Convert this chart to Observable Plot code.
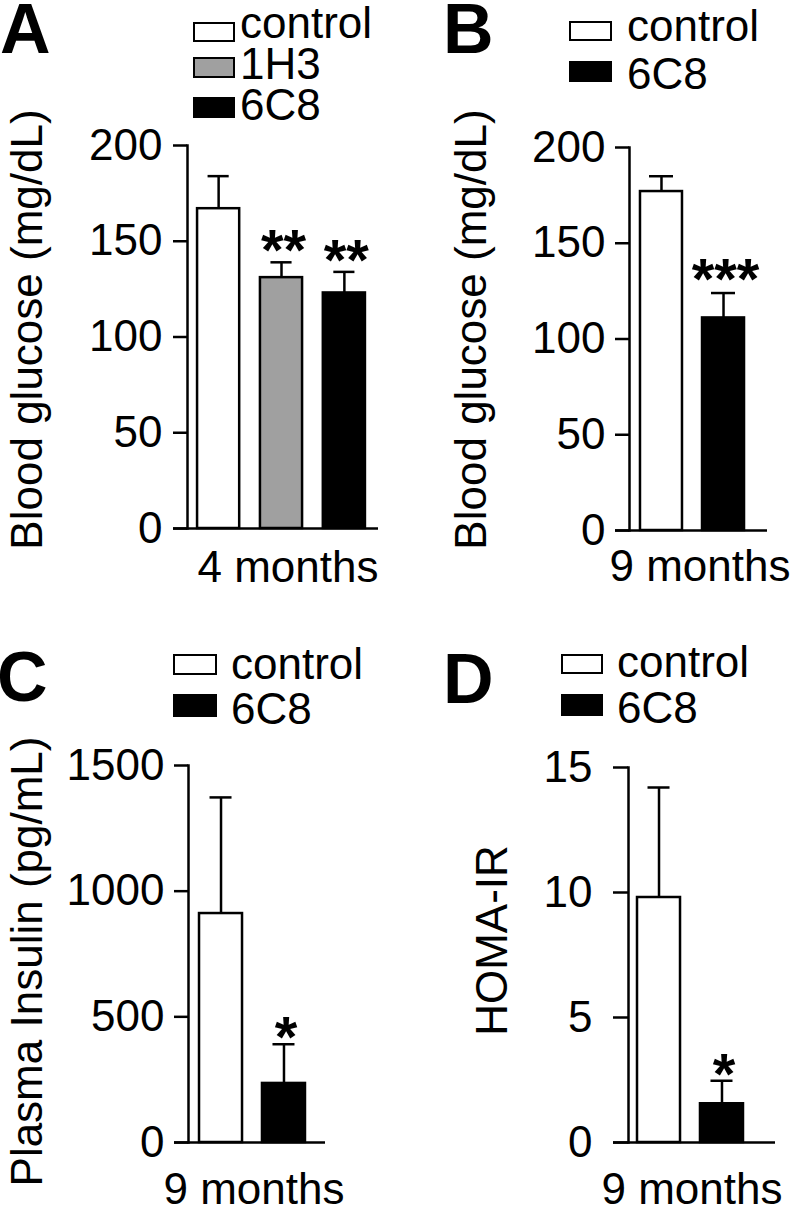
<!DOCTYPE html>
<html><head><meta charset="utf-8">
<script src="https://cdn.jsdelivr.net/npm/d3@7"></script>
<script src="https://cdn.jsdelivr.net/npm/@observablehq/plot@0.6"></script>
<style>
html,body{margin:0;padding:0;background:#fff;}
#fig{position:relative;width:795px;height:1205px;overflow:hidden;background:#fff;font-family:"Liberation Sans",Arial,Helvetica,sans-serif;color:#000;}
.panel{position:absolute;}
.letter{position:absolute;font-weight:bold;font-size:70px;line-height:0.8;white-space:nowrap;}
.sw{position:absolute;box-sizing:border-box;border:2.5px solid #000;}
.lt{position:absolute;font-size:44px;line-height:0.8;white-space:nowrap;}
</style></head><body><div id="fig"></div>
<script>
// ---- data ----
const groupsA = ["control", "1H3", "6C8"];
const glucose4mo = [167, 131, 123];
const glucose4moSem = [17, 8, 11];
const starsA = ["", "**", "**"];

const groupsB = ["control", "6C8"];
const glucose9mo = [177, 111];
const glucose9moSem = [8, 13];
const starsB = ["", "***"];

const groupsC = ["control", "6C8"];
const insulin9mo = [911, 235];
const insulin9moSem = [462, 156];
const starsC = ["", "*"];

const groupsD = ["control", "6C8"];
const homa9mo = [9.8, 1.55];
const homa9moSem = [4.4, 0.92];
const starsD = ["", "*"];

const ticksGlucose = [0, 50, 100, 150, 200];
const ticksInsulin = [0, 500, 1000, 1500];
const ticksHoma = [0, 5, 10, 15];

const panelLetters = ["A", "B", "C", "D"];
const yLabels = ["Blood glucose (mg/dL)", "Blood glucose (mg/dL)", "Plasma Insulin (pg/mL)", "HOMA-IR"];
const xLabels = ["4 months", "9 months", "9 months", "9 months"];

// ---- styles ----
const groupColors = {"control": "#ffffff", "1H3": "#a0a0a0", "6C8": "#000000"};
const FONT = '"Liberation Sans", Arial, Helvetica, sans-serif';
const fig = document.getElementById("fig");
// baseline offset from top of a line box with line-height 0.8 (Liberation Sans ascent .905, descent .212)
const BASE = 0.905 + (0.8 - 1.117) / 2;

function panel(cfg, L) {
  const data = cfg.groups.map((g, i) => ({group: g, value: cfg.values[i], upper: cfg.values[i] + cfg.sem[i], star: cfg.stars[i]}));
  const plot = Plot.plot({
    width: L.width, height: L.height,
    marginLeft: L.ml, marginRight: L.mr, marginTop: L.mt, marginBottom: L.mb,
    style: {fontFamily: FONT, fontSize: "44px", color: "#000", background: "transparent", overflow: "visible"},
    x: {domain: cfg.groups, paddingInner: L.pi, paddingOuter: L.po, round: false, axis: null},
    y: {domain: cfg.domain, label: null},
    color: {domain: cfg.groups, range: cfg.groups.map(g => groupColors[g])},
    marks: [
      Plot.barY(data, {x: "group", y: "value", fill: "group", stroke: "#000", strokeWidth: 2.5}),
      Plot.ruleX(data, {x: "group", y1: "value", y2: "upper", stroke: "#000", strokeWidth: 2.5}),
      Plot.tickY(data, {x: "group", y: "upper", stroke: "#000", strokeWidth: 2.5, insetLeft: L.cap, insetRight: L.cap}),
      Plot.text(data, {x: "group", y: "upper", text: "star", fontSize: 58, fontWeight: "bold", lineAnchor: "bottom", dx: 2, dy: L.starDy, fill: "#000"}),
      Plot.frame({anchor: "left", stroke: "#000", strokeWidth: 2.5}),
      Plot.ruleY([0], {stroke: "#000", strokeWidth: 2.5, insetLeft: -L.tick, insetRight: -L.xr}),
      Plot.axisY({ticks: cfg.ticks, tickSize: L.tick, tickPadding: L.tp, tickFormat: d => String(d), fontSize: 44, strokeWidth: 2.5, label: null, fill: "#000", stroke: "#000"}),
      Plot.text([cfg.ylabel], {text: d => d, frameAnchor: "top-left", rotate: -90, textAnchor: "middle", lineAnchor: "bottom", dx: L.ylx - L.ml, dy: L.yly - L.mt, fontSize: 44, fill: "#000"}),
      Plot.text([cfg.xlabel], {text: d => d, frameAnchor: "bottom-left", textAnchor: "start", lineAnchor: "bottom", dx: L.xlx - L.ml, dy: L.xly - (L.height - L.mb), fontSize: 44, fill: "#000"})
    ]
  });
  const wrap = document.createElement("div");
  wrap.className = "panel";
  wrap.style.left = L.left + "px";
  wrap.style.top = L.top + "px";
  wrap.appendChild(plot);
  fig.appendChild(wrap);

  // panel letter
  const let_ = document.createElement("div");
  let_.className = "letter";
  let_.textContent = cfg.letter;
  let_.style.left = L.letterX + "px";
  let_.style.top = (L.letterBase - BASE * 70) + "px";
  fig.appendChild(let_);

  // legend
  cfg.groups.forEach((g, i) => {
    const r = L.legend.rows[i];
    const sw = document.createElement("div");
    sw.className = "sw";
    sw.style.left = L.legend.x + "px";
    sw.style.top = r[0] + "px";
    sw.style.width = L.legend.w + "px";
    sw.style.height = r[1] + "px";
    sw.style.background = groupColors[g];
    fig.appendChild(sw);
    const t = document.createElement("div");
    t.className = "lt";
    t.textContent = g;
    t.style.left = L.legend.tx + "px";
    t.style.top = (r[2] - BASE * 44) + "px";
    fig.appendChild(t);
  });
}

panel({groups: groupsA, values: glucose4mo, sem: glucose4moSem, stars: starsA, domain: [0, 200], ticks: ticksGlucose, ylabel: yLabels[0], xlabel: xLabels[0], letter: panelLetters[0]},
  {left: 0, top: 0, width: 400, height: 600, ml: 187, mr: 25, mt: 145, mb: 72, pi: 0.33, po: 0.16, tick: 14, tp: 11, xr: 3, cap: 10.5, starDy: 8,
   ylx: 41, yly: 329, xlx: 197, xly: 581, letterX: 0, letterBase: 53,
   legend: {x: 193, w: 42, tx: 240, rows: [[22, 20, 38], [57, 21, 79], [97, 21, 120]]}});

panel({groups: groupsB, values: glucose9mo, sem: glucose9moSem, stars: starsB, domain: [0, 200], ticks: ticksGlucose, ylabel: yLabels[1], xlabel: xLabels[1], letter: panelLetters[1]},
  {left: 400, top: 0, width: 395, height: 600, ml: 229, mr: 40, mt: 147, mb: 70, pi: 0.323, po: 0.177, tick: 14, tp: 10, xr: 12, cap: 9, starDy: 6,
   ylx: 85, yly: 329, xlx: 209, xly: 580, letterX: 443, letterBase: 53,
   legend: {x: 569, w: 43, tx: 627, rows: [[21, 20, 41], [61, 21, 89]]}});

panel({groups: groupsC, values: insulin9mo, sem: insulin9moSem, stars: starsC, domain: [0, 1500], ticks: ticksInsulin, ylabel: yLabels[2], xlabel: xLabels[2], letter: panelLetters[2]},
  {left: 0, top: 600, width: 400, height: 605, ml: 188, mr: 84, mt: 165, mb: 63, pi: 0.317, po: 0.175, tick: 14, tp: 10, xr: 9, cap: 10.5, starDy: 13,
   ylx: 41, yly: 361, xlx: 163, xly: 603, letterX: -3, letterBase: 701,
   legend: {x: 173, w: 44, tx: 231, rows: [[654, 21, 679], [694, 23, 724]]}});

panel({groups: groupsD, values: homa9mo, sem: homa9moSem, stars: starsD, domain: [0, 15], ticks: ticksHoma, ylabel: yLabels[3], xlabel: xLabels[3], letter: panelLetters[3]},
  {left: 400, top: 600, width: 395, height: 605, ml: 228, mr: 43, mt: 167, mb: 63, pi: 0.317, po: 0.143, tick: 15, tp: 21, xr: 23, cap: 10.5, starDy: 13,
   ylx: 106, yly: 340, xlx: 201, xly: 603, letterX: 443, letterBase: 703,
   legend: {x: 561, w: 42, tx: 617, rows: [[654, 20, 677], [694, 22, 723]]}});
</script></body></html>
